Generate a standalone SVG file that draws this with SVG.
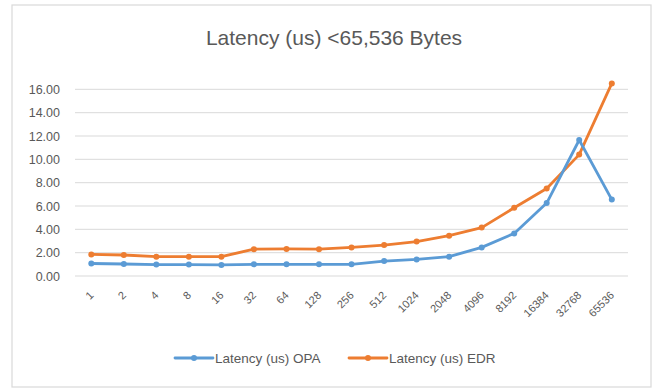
<svg xmlns="http://www.w3.org/2000/svg" width="656" height="392" viewBox="0 0 656 392">
<defs>
<style>
.t{font-family:"Liberation Sans",Arial,sans-serif;fill:#595959}
.yl{font-size:12.5px;text-anchor:end}
.xl{font-size:11px;text-anchor:end}
.grid{stroke:#d9d9d9;stroke-width:1}
.opa{fill:none;stroke:#5B9BD5;stroke-width:2.8;stroke-linejoin:round;stroke-linecap:round}
.edr{fill:none;stroke:#ED7D31;stroke-width:2.8;stroke-linejoin:round;stroke-linecap:round}
.mo{fill:#5B9BD5}
.me{fill:#ED7D31}
</style>
</defs>
<rect x="0" y="0" width="656" height="392" fill="#ffffff"/>
<rect id="frame" x="12" y="5" width="639" height="382" fill="#ffffff" stroke="#d9d9d9" stroke-width="1.2"/>
<text class="t" x="334" y="45" font-size="21" text-anchor="middle">Latency (us) &lt;65,536 Bytes</text>
<g id="gridlines">
<line class="grid" x1="75" y1="89.3" x2="628" y2="89.3"/>
<line class="grid" x1="75" y1="112.7" x2="628" y2="112.7"/>
<line class="grid" x1="75" y1="136" x2="628" y2="136"/>
<line class="grid" x1="75" y1="159.3" x2="628" y2="159.3"/>
<line class="grid" x1="75" y1="182.7" x2="628" y2="182.7"/>
<line class="grid" x1="75" y1="206" x2="628" y2="206"/>
<line class="grid" x1="75" y1="229.3" x2="628" y2="229.3"/>
<line class="grid" x1="75" y1="252.7" x2="628" y2="252.7"/>
<line class="grid" x1="75" y1="276" x2="628" y2="276"/>
</g>
<g id="y-axis-labels" class="t yl">
<text x="60" y="93.8">16.00</text>
<text x="60" y="117.2">14.00</text>
<text x="60" y="140.5">12.00</text>
<text x="60" y="163.8">10.00</text>
<text x="60" y="187.2">8.00</text>
<text x="60" y="210.5">6.00</text>
<text x="60" y="233.8">4.00</text>
<text x="60" y="257.2">2.00</text>
<text x="60" y="280.5">0.00</text>
</g>
<g id="x-axis-labels" class="t xl">
<text transform="translate(94.3,296) rotate(-45)">1</text>
<text transform="translate(126.8,296) rotate(-45)">2</text>
<text transform="translate(159.3,296) rotate(-45)">4</text>
<text transform="translate(191.9,296) rotate(-45)">8</text>
<text transform="translate(224.4,296) rotate(-45)">16</text>
<text transform="translate(256.9,296) rotate(-45)">32</text>
<text transform="translate(289.5,296) rotate(-45)">64</text>
<text transform="translate(322,296) rotate(-45)">128</text>
<text transform="translate(354.5,296) rotate(-45)">256</text>
<text transform="translate(387.1,296) rotate(-45)">512</text>
<text transform="translate(419.6,296) rotate(-45)">1024</text>
<text transform="translate(452.1,296) rotate(-45)">2048</text>
<text transform="translate(484.7,296) rotate(-45)">4096</text>
<text transform="translate(517.2,296) rotate(-45)">8192</text>
<text transform="translate(549.7,296) rotate(-45)">16384</text>
<text transform="translate(582.2,296) rotate(-45)">32768</text>
<text transform="translate(614.8,296) rotate(-45)">65536</text>
</g>
<g id="connectors">
<g id="series-edr">
<polyline class="edr" points="91.3,254.4 123.8,255 156.3,256.7 188.9,256.7 221.4,256.7 253.9,249.2 286.5,248.9 319,249.2 351.5,247.4 384.1,245.1 416.6,241.6 449.1,235.7 481.7,227.6 514.2,207.7 546.7,188.5 579.2,154.6 611.8,83.4"/>
<g class="me">
<circle cx="91.3" cy="254.4" r="3"/><circle cx="123.8" cy="255" r="3"/><circle cx="156.3" cy="256.7" r="3"/><circle cx="188.9" cy="256.7" r="3"/><circle cx="221.4" cy="256.7" r="3"/><circle cx="253.9" cy="249.2" r="3"/><circle cx="286.5" cy="248.9" r="3"/><circle cx="319" cy="249.2" r="3"/><circle cx="351.5" cy="247.4" r="3"/><circle cx="384.1" cy="245.1" r="3"/><circle cx="416.6" cy="241.6" r="3"/><circle cx="449.1" cy="235.7" r="3"/><circle cx="481.7" cy="227.6" r="3"/><circle cx="514.2" cy="207.7" r="3"/><circle cx="546.7" cy="188.5" r="3"/><circle cx="579.2" cy="154.6" r="3"/><circle cx="611.8" cy="83.4" r="3"/>
</g>
</g>
<g id="series-opa">
<polyline class="opa" points="91.3,263.5 123.8,264 156.3,264.6 188.9,264.6 221.4,264.9 253.9,264.3 286.5,264.3 319,264.3 351.5,264.3 384.1,261.1 416.6,259.4 449.1,256.7 481.7,247.4 514.2,233.4 546.7,203.1 579.2,140 611.8,199.6"/>
<g class="mo">
<circle cx="91.3" cy="263.5" r="3"/><circle cx="123.8" cy="264" r="3"/><circle cx="156.3" cy="264.6" r="3"/><circle cx="188.9" cy="264.6" r="3"/><circle cx="221.4" cy="264.9" r="3"/><circle cx="253.9" cy="264.3" r="3"/><circle cx="286.5" cy="264.3" r="3"/><circle cx="319" cy="264.3" r="3"/><circle cx="351.5" cy="264.3" r="3"/><circle cx="384.1" cy="261.1" r="3"/><circle cx="416.6" cy="259.4" r="3"/><circle cx="449.1" cy="256.7" r="3"/><circle cx="481.7" cy="247.4" r="3"/><circle cx="514.2" cy="233.4" r="3"/><circle cx="546.7" cy="203.1" r="3"/><circle cx="579.2" cy="140" r="3"/><circle cx="611.8" cy="199.6" r="3"/>
</g>
</g>
</g>
<g id="legend">
<g id="legend-opa">
<line class="opa" x1="175" y1="358" x2="213" y2="358"/>
<circle class="mo" cx="194" cy="358" r="3"/>
<text class="t" x="215" y="362.5" font-size="13.5">Latency (us) OPA</text>
</g>
<g id="legend-edr">
<line class="edr" x1="349" y1="358" x2="387" y2="358"/>
<circle class="me" cx="368" cy="358" r="3"/>
<text class="t" x="389" y="362.5" font-size="13.5">Latency (us) EDR</text>
</g>
</g>
</svg>
